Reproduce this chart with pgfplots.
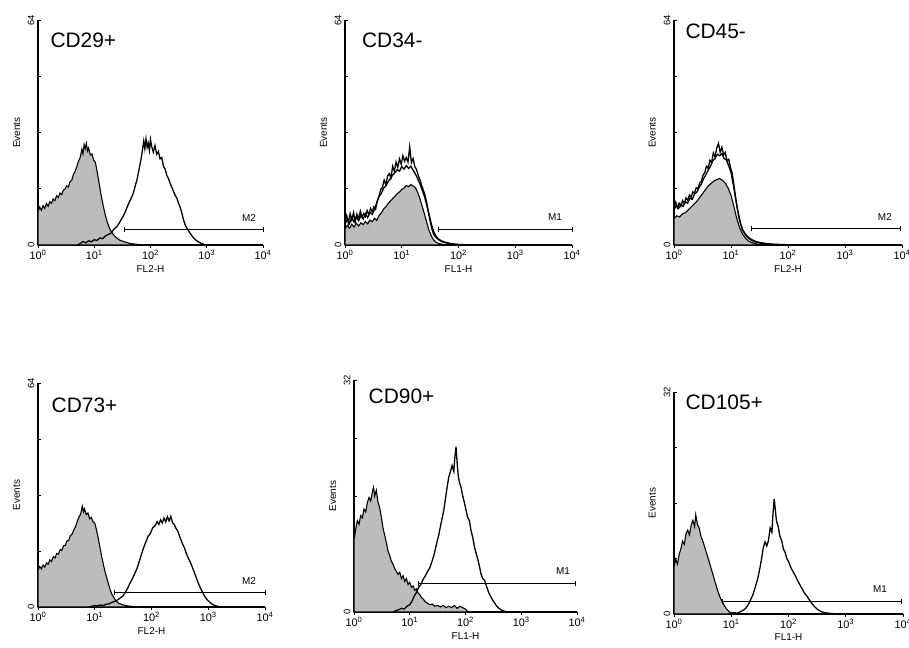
\documentclass[border=0pt]{standalone}
\usepackage{fontspec}
\setmainfont{Liberation Sans}
\usepackage{pgfplots}
\pgfplotsset{compat=1.18}
\definecolor{isogrey}{RGB}{188,188,188}

% one FACS histogram panel; x in decades (10^0 .. 10^4)
\pgfplotsset{
  facs/.style={
    scale only axis,
    anchor=south west,
    xmin=0, xmax=4, ymin=0,
    axis x line=bottom, axis y line=left,
    axis line style={-, line width=1.1pt},
    tick style={black, line width=0.8pt},
    major tick length=3pt,
    xtick align=outside, ytick align=inside,
    xtick={0,1,2,3,4},
    xticklabels={10\textsuperscript{0},10\textsuperscript{1},10\textsuperscript{2},10\textsuperscript{3},10\textsuperscript{4}},
    /pgf/number format/assume math mode=true,
    xticklabel style={font=\fontsize{11}{12}\selectfont, yshift=1.5pt},
    yticklabel style={rotate=90, anchor=south, font=\fontsize{9.5}{10}\selectfont},
    ylabel={Events},
    ylabel style={at={(axis description cs:-0.095,0.5)}, anchor=center, font=\fontsize{10}{11}\selectfont},
    xlabel style={at={(axis description cs:0.5,-0.105)}, anchor=center, font=\fontsize{10}{11}\selectfont},
    clip=false,
  },
  y64/.style={ymax=64, ytick={0,16,32,48,64}, yticklabels={0,,,,64}},
  y32/.style={ymax=32, ytick={0,8,16,24,32}, yticklabels={0,,,,32}},
  iso/.style={fill=isogrey, draw=black, line width=1.1pt},
  pos/.style={draw=black, line width=1.3pt, fill=none},
  gate/.style={black, line width=1pt, mark=|, mark size=2.5pt, mark options={line width=1pt}},
}
\newcommand{\paneltitle}[3]{\node[anchor=west, font=\fontsize{21}{24}\selectfont] at (rel axis cs:#1,#2) {#3};}
\newcommand{\gatelabel}[3]{\node[font=\fontsize{10}{11}\selectfont] at (axis cs:#1,#2) {#3};}

\begin{document}
\begin{tikzpicture}
\path[use as bounding box] (0bp,0bp) rectangle (909bp,-648bp);

% ---------------- CD29+ ----------------
\begin{axis}[facs, y64, at={(38bp,-245bp)}, width=225bp, height=225bp, xlabel={FL2-H}]
\addplot[iso] table {
0.00 9.5
0.03 10.8
0.06 9.9
0.09 11.2
0.12 10.4
0.15 11.8
0.18 11.0
0.21 12.3
0.24 11.9
0.27 13.1
0.30 12.6
0.33 14.0
0.36 13.5
0.39 14.8
0.42 14.3
0.45 15.6
0.48 15.9
0.51 16.8
0.54 16.5
0.57 18.0
0.60 18.4
0.63 20.1
0.66 20.9
0.69 22.3
0.72 23.8
0.75 24.9
0.78 27.2
0.80 25.9
0.82 28.6
0.84 27.4
0.86 28.9
0.88 26.8
0.90 27.6
0.93 25.6
0.96 25.9
0.99 24.1
1.02 23.5
1.05 21.0
1.08 18.2
1.11 15.3
1.14 12.6
1.17 10.4
1.20 8.3
1.23 6.6
1.26 5.3
1.29 4.1
1.32 3.4
1.36 2.6
1.40 2.0
1.45 1.4
1.50 1.1
1.56 0.8
1.62 0.5
1.70 0.3
1.80 0.1
1.90 0
} \closedcycle;
\addplot[pos] table {
0.70 0
0.75 0.4
0.80 1.0
0.85 0.6
0.90 1.2
0.95 0.9
1.00 1.5
1.05 1.3
1.10 2.0
1.15 1.8
1.20 2.6
1.25 3.0
1.30 3.4
1.35 4.5
1.40 5.2
1.45 6.4
1.50 7.8
1.54 9.0
1.58 10.6
1.62 12.1
1.66 13.4
1.70 15.0
1.73 16.9
1.76 18.6
1.79 21.0
1.82 23.4
1.85 26.2
1.88 29.6
1.90 27.4
1.92 30.2
1.94 27.8
1.96 29.0
1.98 26.9
2.00 30.0
2.02 28.1
2.05 26.4
2.08 28.3
2.11 25.8
2.14 26.6
2.17 24.5
2.20 24.9
2.23 22.4
2.26 21.6
2.29 19.8
2.32 18.9
2.35 17.5
2.38 16.4
2.41 15.2
2.44 14.1
2.47 13.3
2.50 11.8
2.53 10.6
2.56 8.9
2.59 7.0
2.62 5.6
2.65 4.7
2.68 3.9
2.72 3.0
2.76 2.1
2.80 1.5
2.85 0.9
2.90 0.5
2.95 0.2
3.00 0
};
\addplot[gate] coordinates {(1.54,4.3) (4,4.3)};
\gatelabel{3.75}{7.8}{M2}
\paneltitle{0.04}{0.91}{CD29+}
\end{axis}

% ---------------- CD34- ----------------
\begin{axis}[facs, y64, at={(345bp,-245bp)}, width=227bp, height=225bp, xlabel={FL1-H}]
\addplot[iso] table {
0.00 4.5
0.04 5.6
0.08 4.8
0.12 5.9
0.16 5.1
0.20 6.2
0.24 5.4
0.28 6.3
0.32 5.8
0.36 6.7
0.40 6.0
0.44 7.1
0.48 6.6
0.52 7.6
0.56 7.0
0.60 8.4
0.64 9.1
0.68 10.2
0.72 10.9
0.76 11.8
0.80 12.5
0.84 13.2
0.88 13.9
0.92 14.6
0.96 15.1
1.00 15.8
1.04 16.2
1.08 16.9
1.12 16.6
1.16 17.2
1.20 16.8
1.24 16.3
1.28 15.0
1.32 13.2
1.36 11.0
1.40 8.8
1.44 6.4
1.48 4.2
1.52 2.6
1.56 1.5
1.60 0.8
1.66 0.4
1.75 0.1
1.85 0
} \closedcycle;
\addplot[pos] table {
0.00 6.8
0.03 8.4
0.06 6.2
0.09 8.9
0.12 7.1
0.15 9.2
0.18 6.6
0.21 8.8
0.24 7.4
0.27 9.6
0.30 7.9
0.33 9.0
0.36 8.1
0.39 9.8
0.42 8.6
0.45 10.4
0.48 9.5
0.51 10.9
0.54 10.2
0.57 12.6
0.60 13.9
0.63 15.8
0.66 16.4
0.69 18.5
0.72 17.2
0.75 19.6
0.78 20.3
0.81 19.1
0.84 22.4
0.87 21.0
0.90 23.6
0.93 22.1
0.96 24.5
0.99 23.0
1.02 25.4
1.05 23.8
1.08 24.9
1.11 23.6
1.14 27.9
1.17 23.4
1.20 24.6
1.23 22.3
1.26 21.5
1.29 19.8
1.32 18.6
1.35 17.0
1.38 15.6
1.41 14.2
1.44 12.0
1.47 9.3
1.50 6.8
1.53 4.6
1.56 3.1
1.60 2.2
1.64 1.6
1.68 1.2
1.72 0.9
1.78 0.6
1.85 0.4
1.95 0.2
2.10 0.1
2.30 0
};
\addplot[pos] table {
0.00 5.8
0.04 7.4
0.08 6.1
0.12 7.9
0.16 6.5
0.20 8.1
0.24 6.9
0.28 8.4
0.32 7.4
0.36 8.9
0.40 7.8
0.44 9.3
0.48 8.7
0.52 10.2
0.56 12.0
0.60 13.8
0.64 14.6
0.68 16.2
0.72 16.8
0.76 18.0
0.80 18.9
0.84 19.9
0.88 20.6
0.92 21.4
0.96 21.0
1.00 22.3
1.04 21.6
1.08 22.6
1.12 21.8
1.16 22.4
1.20 21.3
1.24 20.2
1.28 18.9
1.32 17.4
1.36 15.6
1.40 13.8
1.44 11.4
1.48 8.8
1.52 6.1
1.56 3.9
1.60 2.6
1.64 1.8
1.70 1.2
1.76 0.8
1.84 0.5
1.95 0.2
2.10 0
};
\addplot[gate] coordinates {(1.65,4.5) (4,4.5)};
\gatelabel{3.7}{8.0}{M1}
\paneltitle{0.06}{0.91}{CD34-}
\end{axis}

% ---------------- CD45- ----------------
\begin{axis}[facs, y64, at={(674bp,-245bp)}, width=228bp, height=225bp, xlabel={FL2-H}]
\addplot[iso] table {
0.00 7.5
0.05 8.3
0.10 8.0
0.15 8.9
0.20 9.2
0.25 10.0
0.30 10.8
0.35 11.6
0.40 12.4
0.45 13.5
0.50 14.6
0.55 15.7
0.60 16.8
0.65 17.5
0.70 18.2
0.75 18.6
0.80 18.9
0.85 18.4
0.90 17.6
0.95 16.2
1.00 14.1
1.05 11.0
1.10 7.6
1.15 5.0
1.20 3.2
1.25 2.0
1.30 1.2
1.36 0.7
1.45 0.3
1.60 0
} \closedcycle;
\addplot[pos] table {
0.00 10.8
0.03 12.2
0.06 10.6
0.09 11.9
0.12 11.0
0.15 12.6
0.18 11.8
0.21 13.4
0.24 12.7
0.27 14.2
0.30 13.6
0.33 15.1
0.36 14.8
0.39 16.3
0.42 16.0
0.45 17.6
0.48 18.1
0.51 19.9
0.54 20.6
0.57 22.4
0.60 21.8
0.63 24.1
0.66 23.5
0.69 26.2
0.72 25.0
0.75 27.6
0.78 28.9
0.81 26.4
0.84 27.8
0.87 25.6
0.90 26.3
0.93 23.9
0.96 24.4
0.99 22.1
1.02 20.5
1.05 17.2
1.08 13.6
1.11 10.4
1.14 7.8
1.17 5.9
1.20 4.5
1.24 3.4
1.28 2.6
1.32 2.0
1.37 1.5
1.42 1.1
1.48 0.8
1.55 0.6
1.62 0.4
1.70 0.3
1.80 0.2
1.95 0.1
2.10 0
};
\addplot[pos] table {
0.00 10.0
0.04 11.2
0.08 10.4
0.12 11.6
0.16 11.0
0.20 12.3
0.24 11.9
0.28 13.3
0.32 13.0
0.36 14.5
0.40 15.0
0.44 16.4
0.48 17.3
0.52 18.9
0.56 20.0
0.60 21.3
0.64 22.4
0.68 24.0
0.72 24.6
0.76 25.8
0.80 25.4
0.84 26.0
0.88 24.6
0.92 24.2
0.96 22.5
1.00 20.6
1.04 17.2
1.08 13.3
1.12 9.6
1.16 6.6
1.20 4.4
1.25 2.9
1.30 2.0
1.36 1.3
1.44 0.8
1.55 0.4
1.70 0.1
1.85 0
};
\addplot[gate] coordinates {(1.36,4.7) (3.98,4.7)};
\gatelabel{3.7}{8.1}{M2}
\paneltitle{0.035}{0.95}{CD45-}
\end{axis}

% ---------------- CD73+ ----------------
\begin{axis}[facs, y64, at={(38bp,-607bp)}, width=227bp, height=224bp, xlabel={FL2-H}]
\addplot[iso] table {
0.00 10.5
0.03 11.6
0.06 10.9
0.09 12.0
0.12 11.4
0.15 12.6
0.18 12.2
0.21 13.5
0.24 13.0
0.27 14.4
0.30 14.0
0.33 15.3
0.36 15.1
0.39 16.4
0.42 16.2
0.45 17.5
0.48 17.6
0.51 18.9
0.54 19.0
0.57 20.4
0.60 20.8
0.63 22.0
0.66 22.9
0.69 24.4
0.72 25.6
0.75 26.5
0.78 28.8
0.80 27.2
0.82 28.1
0.85 26.4
0.88 26.9
0.91 25.2
0.94 25.6
0.97 24.3
1.00 24.0
1.03 22.1
1.06 19.8
1.09 17.2
1.12 14.6
1.15 12.3
1.18 10.2
1.21 8.4
1.24 6.7
1.27 5.0
1.30 3.7
1.34 2.6
1.38 1.6
1.43 1.0
1.50 0.6
1.58 0.3
1.70 0.1
1.80 0
} \closedcycle;
\addplot[pos] table {
0.90 0
1.00 0.4
1.05 0.3
1.10 0.6
1.15 0.4
1.20 0.8
1.25 0.9
1.30 1.3
1.35 1.6
1.40 2.0
1.45 2.6
1.50 3.2
1.54 4.2
1.58 5.4
1.62 6.8
1.66 8.0
1.70 9.4
1.74 10.8
1.78 12.8
1.82 14.9
1.86 16.9
1.90 18.6
1.94 20.2
1.98 21.0
2.02 22.6
2.06 23.2
2.10 24.4
2.13 23.6
2.16 24.9
2.19 24.0
2.22 25.4
2.25 24.3
2.28 25.8
2.31 24.6
2.34 25.9
2.37 24.1
2.40 23.6
2.43 22.5
2.46 21.8
2.50 20.0
2.54 18.3
2.58 16.9
2.62 15.0
2.66 13.6
2.70 12.2
2.74 10.5
2.78 8.8
2.82 7.0
2.86 5.5
2.90 4.2
2.94 3.0
2.98 2.1
3.03 1.3
3.08 0.7
3.14 0.3
3.22 0
};
\addplot[gate] coordinates {(1.35,4.1) (4,4.1)};
\gatelabel{3.72}{7.5}{M2}
\paneltitle{0.045}{0.9}{CD73+}
\end{axis}

% ---------------- CD90+ ----------------
\begin{axis}[facs, y32, at={(354bp,-612bp)}, width=223bp, height=232bp, xlabel={FL1-H}]
\addplot[iso] table {
0.00 9.9
0.03 11.4
0.06 12.6
0.09 12.1
0.12 13.3
0.15 13.0
0.18 14.2
0.21 13.8
0.24 15.1
0.27 15.8
0.30 15.3
0.33 16.6
0.35 17.2
0.37 16.0
0.40 16.8
0.43 15.2
0.46 14.4
0.49 13.1
0.52 11.6
0.55 10.6
0.58 9.6
0.61 8.4
0.64 7.8
0.67 7.0
0.70 6.6
0.73 6.0
0.76 5.6
0.79 5.2
0.82 5.5
0.85 4.6
0.88 5.0
0.91 4.2
0.94 4.6
0.97 3.8
1.00 4.1
1.03 3.4
1.06 3.6
1.09 3.0
1.12 3.2
1.15 2.6
1.18 2.4
1.21 2.0
1.24 1.8
1.28 1.4
1.32 1.2
1.36 1.0
1.40 1.1
1.45 0.8
1.50 0.9
1.55 0.7
1.60 0.9
1.65 0.6
1.70 0.8
1.75 0.6
1.80 0.9
1.85 0.5
1.90 0.8
1.95 0.6
2.00 0.4
2.05 0
} \closedcycle;
\addplot[pos] table {
0.70 0
0.75 0.2
0.80 0.3
0.85 0.5
0.90 0.4
0.95 0.8
1.00 1.0
1.04 1.5
1.08 2.2
1.12 2.7
1.16 3.4
1.20 3.8
1.24 4.5
1.28 5.0
1.32 5.6
1.36 6.1
1.40 7.0
1.44 8.0
1.48 9.4
1.52 10.6
1.55 11.8
1.58 12.9
1.61 14.0
1.64 15.6
1.67 17.2
1.70 18.6
1.73 19.4
1.76 20.2
1.79 19.4
1.81 21.4
1.83 22.8
1.85 20.6
1.87 18.8
1.89 17.9
1.92 17.2
1.95 16.0
1.98 15.1
2.01 14.0
2.04 13.0
2.07 12.6
2.10 11.2
2.13 10.3
2.16 9.0
2.19 8.1
2.22 7.3
2.25 6.3
2.28 5.2
2.31 4.6
2.34 4.4
2.38 3.5
2.42 2.6
2.46 2.0
2.50 1.5
2.55 0.9
2.60 0.5
2.66 0.2
2.75 0
};
\addplot[gate] coordinates {(1.16,3.9) (3.98,3.9)};
\gatelabel{3.75}{5.6}{M1}
\paneltitle{0.05}{0.93}{CD90+}
\end{axis}

% ---------------- CD105+ ----------------
\begin{axis}[facs, y32, at={(674bp,-614bp)}, width=229bp, height=222bp, xlabel={FL1-H}]
\addplot[iso] table {
0.00 6.8
0.03 7.9
0.06 7.2
0.09 8.6
0.12 9.4
0.15 10.5
0.18 10.0
0.21 11.6
0.24 12.1
0.27 11.4
0.30 12.8
0.33 13.5
0.36 12.6
0.38 14.3
0.41 12.9
0.44 12.4
0.47 11.2
0.50 10.6
0.53 9.8
0.56 9.0
0.59 8.2
0.62 7.4
0.65 6.5
0.68 5.7
0.71 4.8
0.74 4.0
0.77 3.2
0.80 2.5
0.84 1.8
0.88 1.2
0.92 0.7
0.97 0.3
1.05 0
} \closedcycle;
\addplot[pos] table {
0.95 0
1.05 0.2
1.10 0.1
1.15 0.3
1.20 0.5
1.25 0.8
1.30 1.4
1.34 2.1
1.38 2.8
1.42 3.9
1.46 5.0
1.50 6.6
1.53 8.0
1.56 9.6
1.59 10.4
1.62 9.8
1.65 10.6
1.68 12.4
1.71 11.8
1.73 14.6
1.75 16.6
1.77 15.0
1.79 13.4
1.82 12.6
1.85 11.2
1.88 10.6
1.91 9.4
1.94 8.9
1.97 8.0
2.00 7.6
2.04 6.7
2.08 6.1
2.12 5.5
2.16 4.8
2.20 4.2
2.24 3.6
2.28 3.0
2.32 2.6
2.36 2.1
2.40 1.6
2.45 1.1
2.50 0.7
2.56 0.4
2.62 0.2
2.72 0.1
2.85 0
};
\addplot[gate] coordinates {(0.84,1.8) (3.97,1.8)};
\gatelabel{3.6}{3.6}{M1}
\paneltitle{0.035}{0.955}{CD105+}
\end{axis}

\end{tikzpicture}
\end{document}
